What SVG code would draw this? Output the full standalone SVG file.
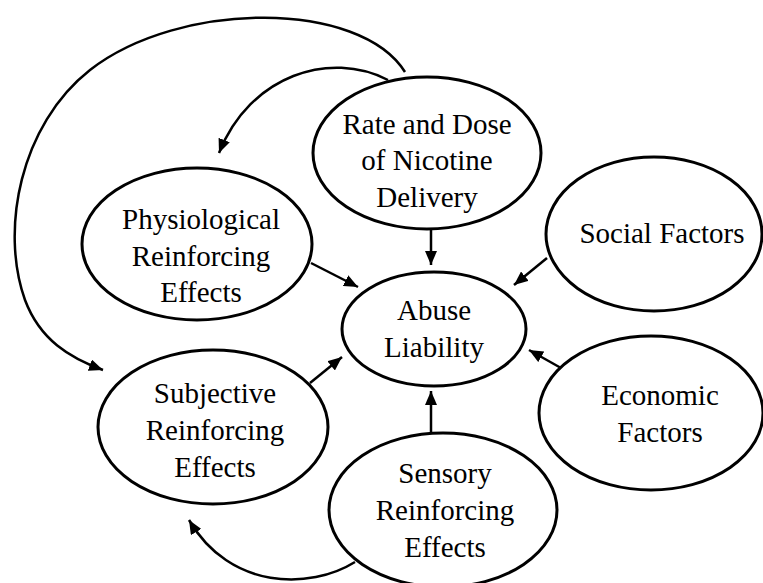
<svg xmlns="http://www.w3.org/2000/svg" width="763" height="583" viewBox="0 0 763 583">
<style>
.n ellipse{fill:#fff;stroke:#000;stroke-width:3}
.n text{font-family:'Liberation Serif','Times New Roman',Times,'Nimbus Roman','Noto Serif','DejaVu Serif',FreeSerif,Georgia,serif;font-size:29px;fill:#000;text-anchor:middle}
#connectors path{fill:none;stroke:#000;stroke-width:2.5;marker-end:url(#ah)}
</style>
<defs>
<marker id="ah" markerUnits="userSpaceOnUse" markerWidth="14" markerHeight="12" refX="14" refY="6" orient="auto">
<path d="M0,0 L14,6 L0,12 Z" fill="#000"/>
</marker>
</defs>
<rect width="763" height="583" fill="#fff"/>
<g id="connectors">
<path d="M405,72 C360,0 180,0 90,70 C20,125 0,230 25,300 C40,340 70,358 103,370"/>
<path d="M388,80 C330,50 250,75 219,153"/>
<path d="M355,562 C310,590 230,590 189,520"/>
<path d="M431,230 L431,265"/>
<path d="M311,263 L358,287"/>
<path d="M547,258 L514,285"/>
<path d="M561,368 L529,350"/>
<path d="M431,433 L431,391"/>
<path d="M310,383 L342,357"/>
</g>
<g id="rate" class="n">
<ellipse cx="427" cy="153" rx="114" ry="76"/>
<text x="427" y="134">Rate and Dose</text>
<text x="427" y="170">of Nicotine</text>
<text x="427" y="207">Delivery</text>
</g>
<g id="physiological" class="n">
<ellipse cx="197" cy="244" rx="115" ry="76"/>
<text x="201" y="229">Physiological</text>
<text x="201" y="266">Reinforcing</text>
<text x="201" y="302">Effects</text>
</g>
<g id="abuse" class="n">
<ellipse cx="434" cy="329" rx="92" ry="57"/>
<text x="434" y="320">Abuse</text>
<text x="434" y="357">Liability</text>
</g>
<g id="social" class="n">
<ellipse cx="654" cy="234" rx="108" ry="77"/>
<text x="662" y="243">Social Factors</text>
</g>
<g id="economic" class="n">
<ellipse cx="651" cy="413" rx="112" ry="77"/>
<text x="660" y="405">Economic</text>
<text x="660" y="442">Factors</text>
</g>
<g id="subjective" class="n">
<ellipse cx="213" cy="427" rx="115" ry="77"/>
<text x="215" y="403">Subjective</text>
<text x="215" y="440">Reinforcing</text>
<text x="215" y="477">Effects</text>
</g>
<g id="sensory" class="n">
<ellipse cx="443" cy="510" rx="114" ry="77"/>
<text x="445" y="483">Sensory</text>
<text x="445" y="520">Reinforcing</text>
<text x="445" y="557">Effects</text>
</g>
</svg>
